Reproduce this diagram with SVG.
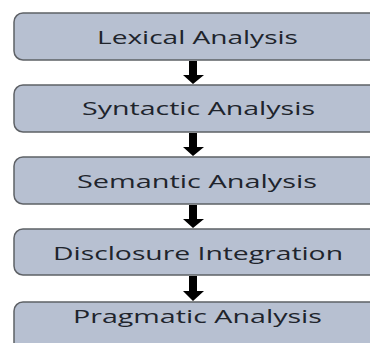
<svg xmlns="http://www.w3.org/2000/svg" width="370" height="343" viewBox="0 0 370 343">
<defs>
<style>
.box{fill:#b7c0d1;stroke:#5e6166;stroke-width:1.5}
.lbl{font-family:"Open Sans","Noto Sans",sans-serif;font-size:18.5px;font-weight:500;fill:#20242c}
.arr{fill:#000}
</style>
</defs>
<rect width="370" height="343" fill="#fff"/>
<g id="lexical"><rect class="box" x="14" y="13" width="370" height="47" rx="9"/><text class="lbl" x="97" y="44" textLength="201" lengthAdjust="spacingAndGlyphs">Lexical Analysis</text></g>
<g id="syntactic"><rect class="box" x="14" y="85" width="370" height="47" rx="9"/><text class="lbl" x="82" y="114.5" textLength="233" lengthAdjust="spacingAndGlyphs">Syntactic Analysis</text></g>
<g id="semantic"><rect class="box" x="14" y="157" width="370" height="47" rx="9"/><text class="lbl" x="77" y="188" textLength="240" lengthAdjust="spacingAndGlyphs">Semantic Analysis</text></g>
<g id="disclosure"><rect class="box" x="14" y="229" width="370" height="46" rx="9"/><text class="lbl" x="53" y="259.5" textLength="290" lengthAdjust="spacingAndGlyphs">Disclosure Integration</text></g>
<g id="pragmatic"><rect class="box" x="14" y="302" width="370" height="60" rx="9"/><text class="lbl" x="73" y="323" textLength="249" lengthAdjust="spacingAndGlyphs">Pragmatic Analysis</text></g>
<g id="connectors">
<path class="arr" d="M189 61H197V75H204L193 84L183 75H189Z"/>
<path class="arr" d="M189 133H197V147H204L193 156L183 147H189Z"/>
<path class="arr" d="M189 205H197V219H204L193 228L183 219H189Z"/>
<path class="arr" d="M189 276H197V291H204L193 301L183 291H189Z"/>
</g>
</svg>
